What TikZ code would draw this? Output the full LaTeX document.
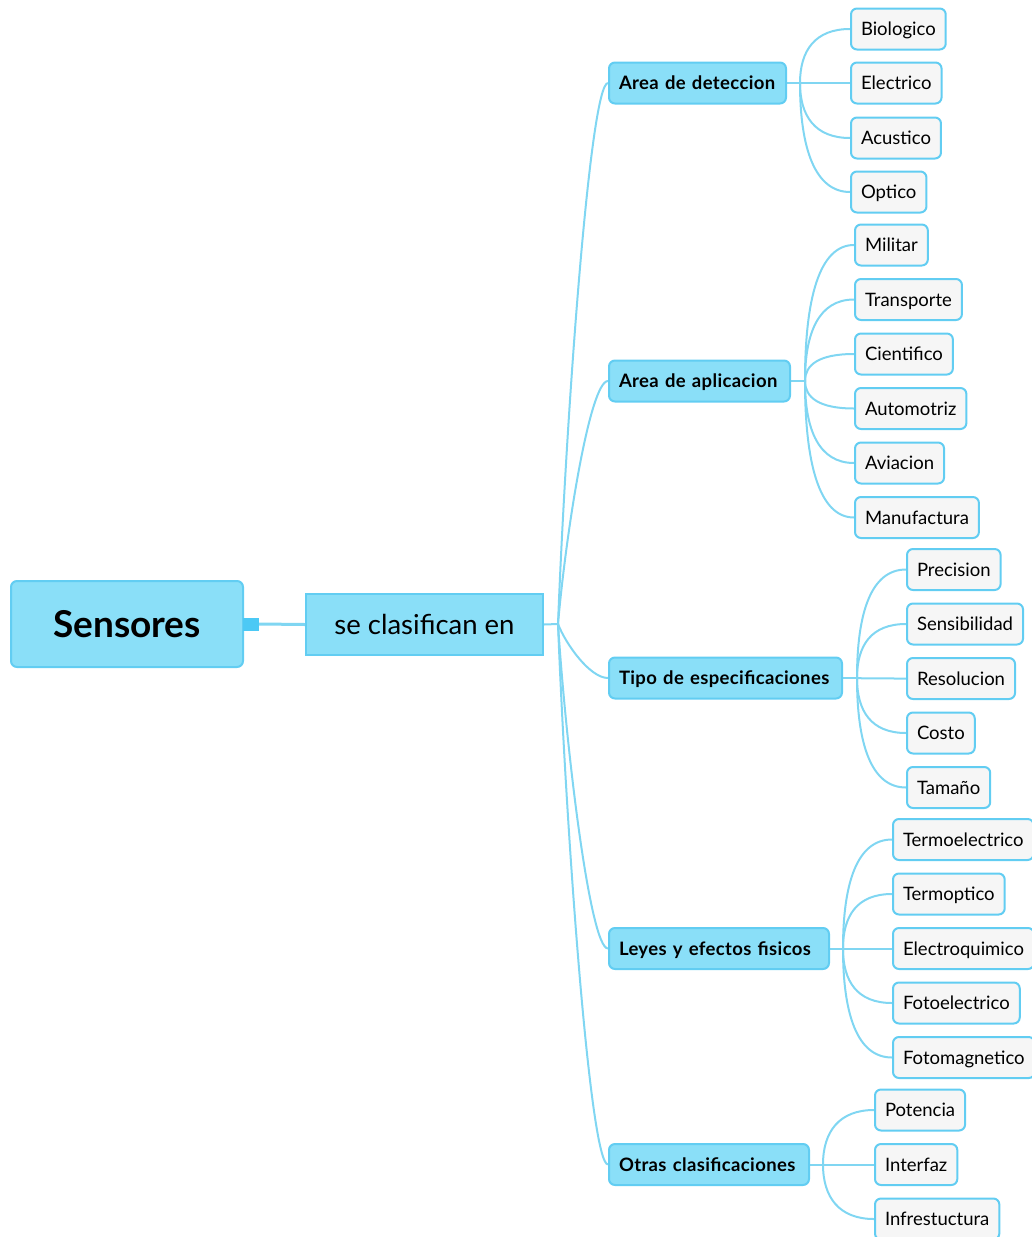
\documentclass[tikz,border=0pt]{standalone}
\usepackage{fontspec}
\setmainfont{Lato}
\usetikzlibrary{backgrounds}
\definecolor{topicfill}{HTML}{8ADFF8}
\definecolor{topicline}{HTML}{62CDF2}
\definecolor{leaffill}{HTML}{F6F6F6}
\definecolor{linkcol}{HTML}{80D6F2}
\definecolor{tabcol}{HTML}{4CC9F5}
\tikzset{
  rootbox/.style={draw=topicline, fill=topicfill, line width=2pt, rounded corners=6pt,
    minimum width=232pt, minimum height=86pt, inner sep=0pt, text height=26pt, text depth=0pt,
    font=\fontsize{37}{40}\selectfont\bfseries},
  subbox/.style={draw=topicline, fill=topicfill, line width=2pt,
    minimum width=237pt, minimum height=61pt, inner sep=0pt, text height=19pt, text depth=0pt,
    font=\fontsize{27.5}{30}\selectfont},
  catbox/.style={draw=topicline, fill=topicfill, line width=2pt, rounded corners=6pt,
    minimum height=41pt, inner xsep=10pt, anchor=west, text height=13.3pt, text depth=0pt,
    align=left, font=\fontsize{18.5}{20}\selectfont\bfseries\addfontfeatures{LetterSpace=2}},
  leafbox/.style={draw=topicline, fill=leaffill, line width=2pt, rounded corners=6pt,
    minimum height=41pt, inner xsep=10pt, anchor=west, text height=13.3pt, text depth=0pt,
    font=\fontsize{18.5}{20}\selectfont},
  link/.style={draw=linkcol, line width=2pt},
}
\begin{document}
\begin{tikzpicture}[x=1pt,y=-1pt]
\useasboundingbox (0,0) rectangle (1032,1237);

% root and its sub-topic
\node[rootbox] (root) at (127,624) {Sensores};
\node[fill=tabcol, minimum width=16pt, minimum height=13pt, inner sep=0pt] (tab) at (251,624) {};
\node[subbox] (sub) at (424.5,624.5) {se clasifican en};
\draw[draw=linkcol, line width=3pt] (tab.east) -- (sub.west);

% main branches (box width minus padding given as text width)
\coordinate (hub) at (558,624);
\begin{pgfonlayer}{background}
\draw[link] (sub.east) -- (hub);
\end{pgfonlayer}
\foreach \n/\y/\w/\t in {d/83/157/Area de deteccion, a/381/161/Area de aplicacion,
    t/678/213/Tipo de especificaciones, l/948.5/200/Leyes y efectos fisicos,
    o/1164.5/180/Otras clasificaciones}{
  \node[catbox, text width=\w pt] (c\n) at (608,\y) {\t};
  \begin{pgfonlayer}{background}
  \draw[link] (hub) .. controls +(8,{0.38*(\y-624)}) and +(-18,0) .. (c\n.west);
  \end{pgfonlayer}
}

% Area de deteccion
\coordinate (fd) at (800,83);
\begin{pgfonlayer}{background}\draw[link] (cd.east) -- (fd);\end{pgfonlayer}
\foreach \k/\y/\t in {1/29/Biologico, 2/83/Electrico, 3/138/Acustico, 4/192/Optico}{
  \node[leafbox] (ld\k) at (850,\y) {\t};
  \begin{pgfonlayer}{background}
  \draw[link] (fd) .. controls +(0,{0.6*(\y-83)}) and +(-35,0) .. (ld\k.west);
  \end{pgfonlayer}
}

% Area de aplicacion
\coordinate (fa) at (805,381);
\begin{pgfonlayer}{background}\draw[link] (ca.east) -- (fa);\end{pgfonlayer}
\foreach \k/\y/\t in {1/245/Militar, 2/299.5/Transporte, 3/354/Cientifico,
    4/408.5/Automotriz, 5/463/Aviacion, 6/517.5/Manufactura}{
  \node[leafbox] (la\k) at (854,\y) {\t};
  \begin{pgfonlayer}{background}
  \draw[link] (fa) .. controls +(0,{0.6*(\y-381)}) and +(-35,0) .. (la\k.west);
  \end{pgfonlayer}
}

% Tipo de especificaciones
\coordinate (ft) at (857,678);
\begin{pgfonlayer}{background}\draw[link] (ct.east) -- (ft);\end{pgfonlayer}
\foreach \k/\y/\t in {1/569.5/Precision, 2/624/Sensibilidad, 3/678.5/Resolucion,
    4/733/Costo, 5/787.5/Tamaño}{
  \node[leafbox] (lt\k) at (906,\y) {\t};
  \begin{pgfonlayer}{background}
  \draw[link] (ft) .. controls +(0,{0.6*(\y-678)}) and +(-35,0) .. (lt\k.west);
  \end{pgfonlayer}
}

% Leyes y efectos fisicos
\coordinate (fl) at (843,948.5);
\begin{pgfonlayer}{background}\draw[link] (cl.east) -- (fl);\end{pgfonlayer}
\foreach \k/\y/\t in {1/839.5/Termoelectrico, 2/894/Termoptico, 3/948.5/Electroquimico,
    4/1003/Fotoelectrico, 5/1057.5/Fotomagnetico}{
  \node[leafbox] (ll\k) at (892,\y) {\t};
  \begin{pgfonlayer}{background}
  \draw[link] (fl) .. controls +(0,{0.6*(\y-948.5)}) and +(-35,0) .. (ll\k.west);
  \end{pgfonlayer}
}

% Otras clasificaciones
\coordinate (fo) at (823,1164.5);
\begin{pgfonlayer}{background}\draw[link] (co.east) -- (fo);\end{pgfonlayer}
\foreach \k/\y/\t in {1/1110/Potencia, 2/1164.5/Interfaz, 3/1219/Infrestuctura}{
  \node[leafbox] (lo\k) at (874,\y) {\t};
  \begin{pgfonlayer}{background}
  \draw[link] (fo) .. controls +(0,{0.6*(\y-1164.5)}) and +(-35,0) .. (lo\k.west);
  \end{pgfonlayer}
}
\end{tikzpicture}
\end{document}
